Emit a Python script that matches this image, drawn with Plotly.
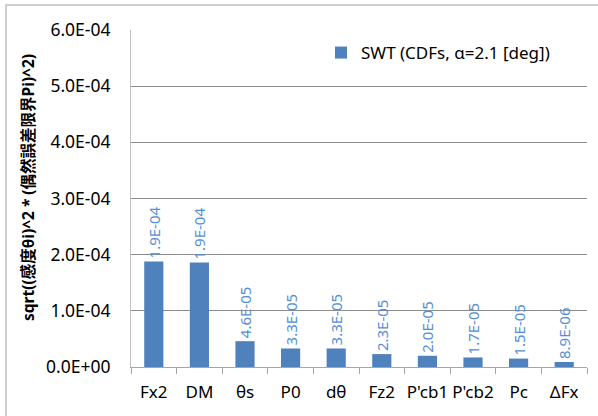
import plotly.graph_objects as go

categories = ["Fx2", "DM", "θs", "P0", "dθ", "Fz2", "P'cb1", "P'cb2", "Pc", "ΔFx"]
values = [1.88e-4, 1.86e-4, 4.6e-5, 3.3e-5, 3.3e-5, 2.3e-5, 2.0e-5, 1.7e-5, 1.5e-5, 8.9e-6]
series_name = "SWT (CDFs, α=2.1 [deg])"
y_ticks = [0, 1e-4, 2e-4, 3e-4, 4e-4, 5e-4, 6e-4]
y_title = "sqrt((感度θi)^2 * (偶然誤差限界Pi)^2)"

labels = [f"{v:.1E}" for v in values]
tick_text = [f"{v:.1E}" for v in y_ticks]

FONT = "'Noto Sans', 'Noto Sans CJK JP', sans-serif"

# plot area in pixels
L, R, T, B = 131, 587, 30, 367
W, H = R - L, B - T

def px_x(p):
    return (p - L) / W

def px_y(p):
    return (B - p) / H

fig = go.Figure()
fig.add_trace(go.Bar(
    x=categories, y=values, name=series_name,
    marker=dict(color="#4F81BD", line=dict(width=0)),
    text=labels, textposition="outside", textangle=-90,
    textfont=dict(color="#558ED5", size=15, family=FONT),
    constraintext="none",
    cliponaxis=False, width=0.42,
))

fig.update_layout(
    width=598, height=416,
    margin=dict(l=L, r=598 - R, t=T, b=416 - B),
    paper_bgcolor="white", plot_bgcolor="white",
    font=dict(family=FONT, size=16, color="black"),
    showlegend=True,
    legend=dict(x=px_x(321), xanchor="left", y=px_y(35), yanchor="top",
                bgcolor="rgba(0,0,0,0)", font=dict(size=17, family=FONT),
                itemwidth=30),
    shapes=[dict(type="rect", xref="paper", yref="paper",
                 x0=px_x(6), x1=px_x(640), y0=px_y(460), y1=px_y(5),
                 line=dict(color="#BFBFBF", width=1.5), layer="below")],
    annotations=[dict(text=f"<b>{y_title}</b>", textangle=-90,
                      xref="paper", yref="paper", x=px_x(28), y=px_y(188),
                      xanchor="center", yanchor="middle", showarrow=False,
                      font=dict(size=15.5, family=FONT, color="black"))],
    yaxis2=dict(overlaying="y", side="left", range=[0, 6e-4],
                tickvals=y_ticks, showticklabels=False,
                ticks="outside", ticklen=6, tickcolor="#A6A6A6",
                showgrid=False, showline=False, zeroline=False),
)
fig.update_xaxes(
    showline=True, linecolor="#A6A6A6", linewidth=1,
    ticks="outside", tickson="boundaries", ticklen=6, tickcolor="#A6A6A6",
    tickfont=dict(size=17, family=FONT), showgrid=False, tickangle=0,
    ticklabelstandoff=10,
)
fig.update_yaxes(
    selector=dict(overlaying=None),
    range=[0, 6e-4], tickvals=y_ticks, ticktext=tick_text,
    showline=True, linecolor="#BFBFBF", linewidth=1,
    ticks="outside", ticklen=16, tickcolor="rgba(0,0,0,0)",
    showgrid=True, gridcolor="#8C8C8C", gridwidth=1,
    tickfont=dict(size=17.5, family=FONT),
    zeroline=False,
)

fig.write_html("out.html")
